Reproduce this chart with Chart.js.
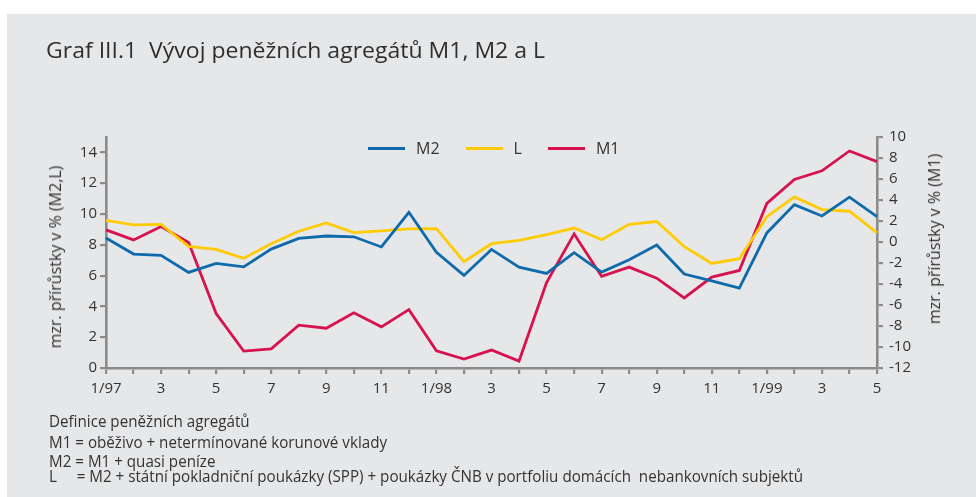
<!DOCTYPE html>
<html>
<head>
<meta charset="utf-8">
<script src="https://cdn.jsdelivr.net/npm/chart.js@4.4.1/dist/chart.umd.min.js"></script>
<style>
  html, body { margin:0; padding:0; background:#ffffff; }
  #wrap { position:relative; width:976px; height:497px; overflow:hidden; background:#ffffff; }
  #panel { position:absolute; left:7px; top:14px; width:969px; height:483px; background:#e6e7e9; }
  #c { position:absolute; left:0; top:0; }
  .txt { position:absolute; font-family:"Open Sans", sans-serif; color:#333333; white-space:pre; line-height:1; transform-origin:0 0; }
  #title { left:46px; top:38px; font-size:22px; color:#2e2e2e; }
  .fn { left:49px; font-size:15.5px; }
  .rot { position:absolute; font-family:"Open Sans", sans-serif; font-size:16px; color:#333333; white-space:pre; line-height:1; transform:translate(-50%,-50%) rotate(-90deg); }
  #legend { position:absolute; left:368px; top:138px; height:20px; display:flex; align-items:center; font-family:"Open Sans", sans-serif; font-size:16px; color:#333333; }
  .li { display:flex; align-items:center; margin-right:26px; }
  .li:last-child { margin-right:0; }
  .sw { width:37px; height:3px; margin-right:11px; }
</style>
</head>
<body>
<div id="wrap">
  <div id="panel"></div>
  <canvas id="c" width="976" height="497"></canvas>
  <div id="title" class="txt">Graf III.1  Vývoj peněžních agregátů M1, M2 a L</div>
  <div id="legend"></div>
  <div class="rot" style="left:55px; top:257px;">mzr. přírůstky v % (M2,L)</div>
  <div class="rot" style="left:934px; top:239px;">mzr. přírůstky v % (M1)</div>
  <div id="fn1" class="txt fn" style="top:414px;">Definice peněžních agregátů</div>
  <div id="fn2" class="txt fn" style="top:435px;">M1 = oběživo + netermínované korunové vklady</div>
  <div id="fn3" class="txt fn" style="top:454px;">M2 = M1 + quasi peníze</div>
  <div id="fn4" class="txt fn" style="top:469px;">L     = M2 + státní pokladniční poukázky (SPP) + poukázky ČNB v portfoliu domácích  nebankovních subjektů</div>
</div>
<script>
// ---- data ----
const categories = ['1/97','2/97','3/97','4/97','5/97','6/97','7/97','8/97','9/97','10/97','11/97','12/97',
                    '1/98','2/98','3/98','4/98','5/98','6/98','7/98','8/98','9/98','10/98','11/98','12/98',
                    '1/99','2/99','3/99','4/99','5/99'];
const tickLabels = ['1/97','','3','','5','','7','','9','','11','',
                    '1/98','','3','','5','','7','','9','','11','',
                    '1/99','','3','','5'];
const seriesNames = ['M2','L','M1'];
const m2Values = [8.44,7.40,7.31,6.21,6.79,6.57,7.72,8.42,8.57,8.52,7.86,10.11,
                  7.51,6.01,7.70,6.55,6.14,7.49,6.23,7.03,7.99,6.10,5.66,5.19,
                  8.77,10.61,9.87,11.09,9.83];
const lValues  = [9.59,9.29,9.33,7.90,7.70,7.12,8.07,8.88,9.42,8.79,8.90,9.03,
                  9.05,6.90,8.07,8.29,8.66,9.09,8.33,9.33,9.51,7.88,6.79,7.10,
                  9.83,11.11,10.29,10.18,8.77];
const m1Values = [1.15,0.20,1.47,-0.05,-6.81,-10.39,-10.17,-7.92,-8.21,-6.74,-8.08,-6.44,
                  -10.36,-11.15,-10.29,-11.34,-3.87,0.77,-3.28,-2.39,-3.45,-5.33,-3.34,-2.71,
                  3.68,5.95,6.78,8.67,7.66];
const leftTicks  = [0,2,4,6,8,10,12,14];
const rightTicks = [-12,-10,-8,-6,-4,-2,0,2,4,6,8,10];

// ---- styles ----
const colors = ['#0e6aab', '#ffcb05', '#d6134e'];
const axisColor = '#8b8b8b';
const textColor = '#333333';
const fontFam = '"Open Sans", sans-serif';

const datasets = [
  { label: seriesNames[0], data: m2Values, yAxisID: 'y' },
  { label: seriesNames[1], data: lValues,  yAxisID: 'y' },
  { label: seriesNames[2], data: m1Values, yAxisID: 'y1' }
].map((d, i) => Object.assign(d, {
  borderColor: colors[i], backgroundColor: colors[i], borderWidth: 2.8,
  pointRadius: 0, tension: 0, fill: false, borderJoinStyle: 'miter'
}));

const axisGrid = { drawOnChartArea:false, drawTicks:true, tickLength:6, color:axisColor, lineWidth:2.2 };
const axisBorder = { display:true, color:axisColor, width:2.6 };

new Chart(document.getElementById('c'), {
  type: 'line',
  data: { labels: categories, datasets },
  options: {
    responsive:false, animation:false, events:[],
    layout:{ padding:{ left:50, right:59, top:137, bottom:99 } },
    plugins:{ legend:{ display:false }, tooltip:{ enabled:false } },
    scales:{
      x:{
        type:'category', offset:false,
        grid: axisGrid, border: axisBorder,
        ticks:{ autoSkip:false, maxRotation:0, minRotation:0, padding:6, color:textColor,
                font:{ family:fontFam, size:15 }, callback:(v,i)=>tickLabels[i] },
        afterFit:(s)=>{ s.height = 30; }
      },
      y:{
        position:'left', min:0, max:15,
        grid: axisGrid, border: axisBorder,
        ticks:{ padding:3, color:textColor, font:{ family:fontFam, size:15 } },
        afterBuildTicks:(s)=>{ s.ticks = leftTicks.map(v=>({value:v})); },
        afterFit:(s)=>{ s.width = 56; }
      },
      y1:{
        position:'right', min:-12, max:10,
        grid: axisGrid, border: axisBorder,
        ticks:{ padding:6, color:textColor, font:{ family:fontFam, size:15 } },
        afterBuildTicks:(s)=>{ s.ticks = rightTicks.map(v=>({value:v})); },
        afterFit:(s)=>{ s.width = 40; }
      }
    }
  }
});

// ---- HTML legend built from series ----
const lg = document.getElementById('legend');
seriesNames.forEach((n, i) => {
  const item = document.createElement('div'); item.className = 'li';
  const sw = document.createElement('div'); sw.className = 'sw'; sw.style.background = colors[i];
  const t = document.createElement('span'); t.textContent = n;
  item.appendChild(sw); item.appendChild(t); lg.appendChild(item);
});

// ---- fit text widths ----
function fitTo(id, w) {
  const el = document.getElementById(id);
  const cur = el.getBoundingClientRect().width;
  const k = w / cur;
  el.style.transform = 'scaleX(' + k + ')';
  return k;
}
fitTo('title', 499);
const k = fitTo('fn4', 754);
['fn1','fn2','fn3'].forEach(id => { document.getElementById(id).style.transform = 'scaleX(' + k + ')'; });
</script>
</body>
</html>
